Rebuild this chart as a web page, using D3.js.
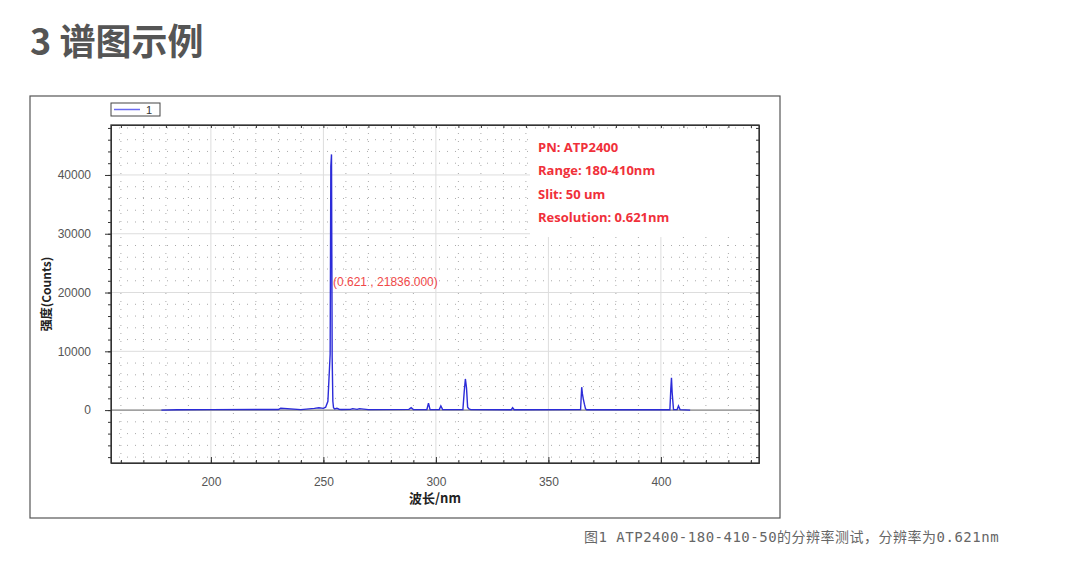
<!DOCTYPE html>
<html><head><meta charset="utf-8">
<script src="https://cdn.jsdelivr.net/npm/d3@7"></script>
<style>
body{margin:0;background:#fff;font-family:"Liberation Sans",Arial,sans-serif}
</style></head>
<body><svg width="1080" height="573"></svg>
<script>
// spectrum: wavelength (nm) and counts
var wavelengths = [178,185,200,230,231,240,246,248,250,251,252,253,253.3,253.6,253.9,254.2,254.5,255,256,257,258,262,263,265,266,270,288,289,290,296,296.7,297.4,301.5,302.2,303,312,312.6,313.1,313.6,314.1,314.7,315.5,333.5,334.1,334.8,364.3,364.8,365.1,365.5,366,366.5,367,404,404.4,404.7,405,405.6,407.2,407.8,408.5,413];
var counts      = [0,50,80,100,300,80,300,400,300,500,1500,9500,41500,43500,9000,1500,400,200,300,150,100,120,250,120,250,80,120,400,80,100,1200,80,80,700,80,80,3200,5300,3800,500,200,80,60,400,60,80,3900,2800,1900,1000,200,60,60,3600,5500,3000,100,80,700,80,0];
var xTicks = [200,250,300,350,400];
var yTicks = [0,10000,20000,30000,40000];
var infoLines = ['PN: ATP2400','Range: 180-410nm','Slit: 50 um','Resolution: 0.621nm'];

var svg = d3.select('svg');
var plot = {left:111, right:759, top:125, bottom:463};

svg.append('text').attr('x',30).attr('y',55).attr('font-size',36).attr('font-weight','bold')
  .attr('fill','#555').attr('font-family','"Noto Sans CJK SC"').text('3 谱图示例');

svg.append('rect').attr('x',30).attr('y',96).attr('width',750).attr('height',422)
  .attr('fill','#fff').attr('stroke','#555').attr('stroke-width',1.2);

var x = d3.scaleLinear().domain([155.6,443.6]).range([plot.left,plot.right]);
var y = d3.scaleLinear().domain([-9000,48500]).range([plot.bottom,plot.top]);

// grids
var g = svg.append('g');
d3.range(160,441,10).forEach(function(v){
  var major = v % 50 === 0;
  g.append('line').attr('x1',x(v)).attr('x2',x(v)).attr('y1',plot.top).attr('y2',plot.bottom)
    .attr('stroke', major ? '#ddd' : '#aaa').attr('stroke-dasharray', major ? null : '1,7');
});
d3.range(-8000,48001,2000).forEach(function(v){
  var major = v % 10000 === 0;
  g.append('line').attr('x1',plot.left).attr('x2',plot.right).attr('y1',y(v)).attr('y2',y(v))
    .attr('stroke', major ? '#ddd' : '#aaa').attr('stroke-dasharray', major ? null : '1,7');
});
g.append('line').attr('x1',plot.left).attr('x2',plot.right).attr('y1',y(0)).attr('y2',y(0))
  .attr('stroke','#888').attr('stroke-width',1.2);

// info box covers grid
svg.append('rect').attr('x',530).attr('y',129).attr('width',225).attr('height',108).attr('fill','#fff');
svg.selectAll('.info').data(infoLines).enter().append('text')
  .attr('x',538).attr('y',function(d,i){return 152+i*23.3;})
  .attr('font-size',13).attr('font-weight','bold').attr('fill','#f0303a')
  .attr('font-family','"Open Sans",sans-serif').text(function(d){return d;});

// spectrum
var pts = wavelengths.map(function(w,i){return [w,counts[i]];});
svg.append('path').datum(pts).attr('fill','none').attr('stroke','#2b2bd8').attr('stroke-width',1.4)
  .attr('d', d3.line().x(function(d){return x(d[0]);}).y(function(d){return y(d[1]);}));

svg.append('text').attr('x',333).attr('y',286).attr('font-size',12).attr('fill','#f04848')
  .text('(0.621 , 21836.000)');

// axes
function styleAxis(sel){
  sel.selectAll('path,line').attr('stroke','#333');
  sel.selectAll('text').attr('font-size',12).attr('fill','#555');
}
svg.append('g').attr('transform','translate(0,'+plot.bottom+')')
  .call(d3.axisBottom(x).tickValues(xTicks).tickSize(-6).tickPadding(14).tickSizeOuter(0)).call(styleAxis);
svg.append('g').attr('transform','translate(0,'+plot.bottom+')')
  .call(d3.axisBottom(x).tickValues(d3.range(160,441,10)).tickSize(-3).tickFormat('').tickSizeOuter(0)).call(styleAxis);
svg.append('g').attr('transform','translate('+plot.left+',0)')
  .call(d3.axisLeft(y).tickValues(yTicks).tickSize(6).tickPadding(14).tickFormat(d3.format('d')).tickSizeOuter(0)).call(styleAxis);
svg.append('g').attr('transform','translate('+plot.left+',0)')
  .call(d3.axisLeft(y).tickValues(d3.range(-8000,48001,2000)).tickSize(3).tickFormat('').tickSizeOuter(0)).call(styleAxis);
svg.append('rect').attr('x',plot.left).attr('y',plot.top).attr('width',plot.right-plot.left)
  .attr('height',plot.bottom-plot.top).attr('fill','none').attr('stroke','#333').attr('stroke-width',1.3);
// ticks on top and right edges
svg.append('g').attr('transform','translate(0,'+plot.top+')')
  .call(d3.axisTop(x).tickValues(d3.range(160,441,10)).tickSize(-3).tickFormat('').tickSizeOuter(0)).call(styleAxis);
svg.append('g').attr('transform','translate('+plot.right+',0)')
  .call(d3.axisRight(y).tickValues(d3.range(-8000,48001,2000)).tickSize(-3).tickFormat('').tickSizeOuter(0)).call(styleAxis);

svg.append('text').attr('x',435).attr('y',503).attr('text-anchor','middle').attr('font-size',13)
  .attr('font-weight','bold').attr('fill','#222').attr('font-family','"Noto Sans CJK SC"').text('波长/nm');
svg.append('text').attr('transform','translate(51,294) rotate(-90)').attr('text-anchor','middle')
  .attr('font-size',12).attr('font-weight','bold').attr('fill','#222')
  .attr('font-family','"Noto Sans CJK SC"').text('强度(Counts)');

// legend
svg.append('rect').attr('x',111).attr('y',103).attr('width',49).attr('height',13)
  .attr('fill','#fff').attr('stroke','#444');
svg.append('line').attr('x1',114).attr('x2',140).attr('y1',109.5).attr('y2',109.5).attr('stroke','#6a6af0').attr('stroke-width',1.5);
svg.append('text').attr('x',146).attr('y',114).attr('font-size',11).attr('fill','#333').text('1');

svg.append('text').attr('x',584).attr('y',542).attr('font-size',14).attr('letter-spacing',0.5).attr('fill','#666')
  .attr('font-family','"DejaVu Sans Mono","Noto Sans CJK SC"').text('图1 ATP2400-180-410-50的分辨率测试，分辨率为0.621nm');
</script></body></html>
